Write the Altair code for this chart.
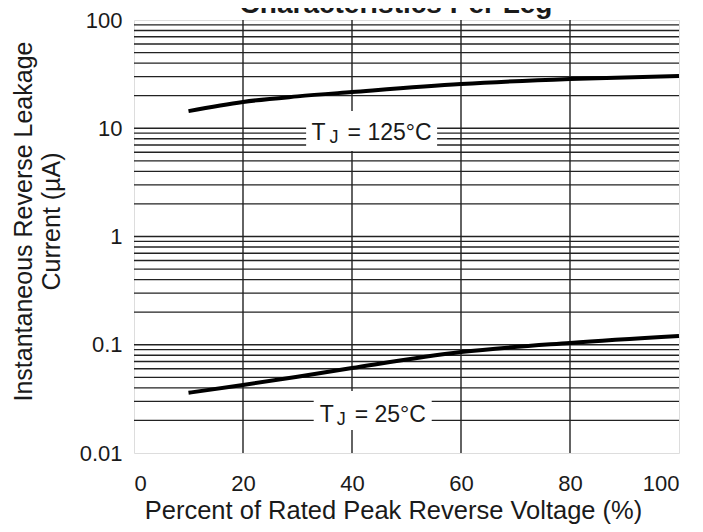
import altair as alt
import pandas as pd

# ---- data ----
pct_125 = [10, 20, 30, 40, 60, 80, 100]
cur_125 = [14.4, 17.5, 19.7, 21.6, 25.6, 28.5, 30.4]
pct_25 = [10, 20, 30, 40, 60, 80, 100]
cur_25 = [0.036, 0.0425, 0.0507, 0.061, 0.0857, 0.104, 0.1205]

grid_y = [0.02, 0.03, 0.04, 0.05, 0.06, 0.07, 0.08, 0.09, 0.1,
          0.2, 0.3, 0.4, 0.5, 0.6, 0.7, 0.8, 0.9, 1,
          2, 3, 4, 5, 6, 7, 8, 9, 10,
          20, 30, 40, 50, 60, 70, 80, 90]
grid_x = [20, 40, 60, 80]
y_ticks = [0.01, 0.1, 1, 10, 100]
x_ticks = [0, 20, 40, 60, 80, 100]

lab125_x, lab125_y = [43.6], [9.43]
lab25_x, lab25_y = [43.8], [0.0247]

FONT = "Liberation Sans"
INK = "#1a1a1a"

curves = pd.DataFrame({
    "pct": pct_125 + pct_25,
    "cur": cur_125 + cur_25,
    "series": ["125"] * len(pct_125) + ["25"] * len(pct_25),
})

xs = alt.Scale(domain=[0, 100], nice=False)
ys = alt.Scale(type="log", domain=[0.01, 100], nice=False)

x_axis = alt.Axis(values=x_ticks, grid=False, ticks=False, tickSize=0, domain=False,
                  labelFont=FONT, labelFontSize=22, labelColor=INK, labelPadding=20,
                  title="Percent of Rated Peak Reverse Voltage (%)",
                  titleFont=FONT, titleFontSize=25.5, titleFontWeight="normal", titleColor=INK,
                  titleX=259, titleY=65, titleBaseline="alphabetic", titleAnchor="middle")
y_axis = alt.Axis(values=y_ticks, grid=False, ticks=False, tickSize=0, domain=False,
                  format="~g", labelFont=FONT, labelFontSize=22, labelColor=INK, labelPadding=12,
                  title=["Instantaneous Reverse Leakage", "Current (µA)"],
                  titleFont=FONT, titleFontSize=25, titleFontWeight="normal", titleColor=INK,
                  titleX=-111, titleY=201, titleBaseline="middle", titleAngle=270,
                  titleAlign="center", titleLineHeight=28)

base = alt.Chart(curves).encode(
    x=alt.X("pct:Q", scale=xs, axis=x_axis),
    y=alt.Y("cur:Q", scale=ys, axis=y_axis),
)

hgrid = alt.Chart(pd.DataFrame({"v": grid_y})).mark_rule(color="#222222", strokeWidth=1.3).encode(
    y=alt.Y("v:Q", scale=ys))
vgrid = alt.Chart(pd.DataFrame({"v": grid_x})).mark_rule(color="#222222", strokeWidth=1.4).encode(
    x=alt.X("v:Q", scale=xs))

lines = base.mark_line(color="black", strokeWidth=4, interpolate="monotone").encode(
    detail="series:N")

def label(xv, yv, temp, halfw, halfh, dx_t, dx_j, dx_r, dy_base):
    df = pd.DataFrame({"x": xv, "y": yv})
    c = alt.Chart(df)
    box = c.mark_rect(color="white", xOffset=-halfw, x2Offset=halfw,
                      yOffset=-halfh, y2Offset=halfh).encode(
        x=alt.X("x:Q", scale=xs), x2="x:Q",
        y=alt.Y("y:Q", scale=ys), y2="y:Q")
    enc = dict(x=alt.X("x:Q", scale=xs), y=alt.Y("y:Q", scale=ys))
    t = c.mark_text(text="T", font=FONT, fontSize=23, color=INK, align="left",
                    baseline="alphabetic", dx=dx_t, dy=dy_base).encode(**enc)
    j = c.mark_text(text="J", font=FONT, fontSize=18, color=INK, align="left",
                    baseline="alphabetic", dx=dx_j, dy=dy_base + 3).encode(**enc)
    r = c.mark_text(text="= " + temp, font=FONT, fontSize=23, color=INK, align="left",
                    baseline="alphabetic", dx=dx_r, dy=dy_base).encode(**enc)
    return box + t + j + r

lab125 = label(lab125_x, lab125_y, "125°C", 65.5, 20, -60, -42, -24, 9)
lab25 = label(lab25_x, lab25_y, "25°C", 59, 19.5, -53, -36, -18, 11.5)

title = alt.Chart(pd.DataFrame({"t": ["Characteristics Per Leg"]})).mark_text(
    font=FONT, fontSize=28, fontWeight="bold", color=INK, align="center",
    baseline="alphabetic").encode(text="t:N", x=alt.value(262), y=alt.value(-7))

chart = alt.layer(base.mark_line(opacity=0), hgrid, vgrid, lines, lab125, lab25, title).properties(
    width=545, height=433,
    autosize=alt.AutoSizeParams(type="none"),
    padding={"left": 126, "top": 12, "right": 16, "bottom": 71},
).configure_view(stroke="black", strokeWidth=3).configure(background="white")

chart.save("out.html", embed_options={"renderer": "svg", "actions": False})
